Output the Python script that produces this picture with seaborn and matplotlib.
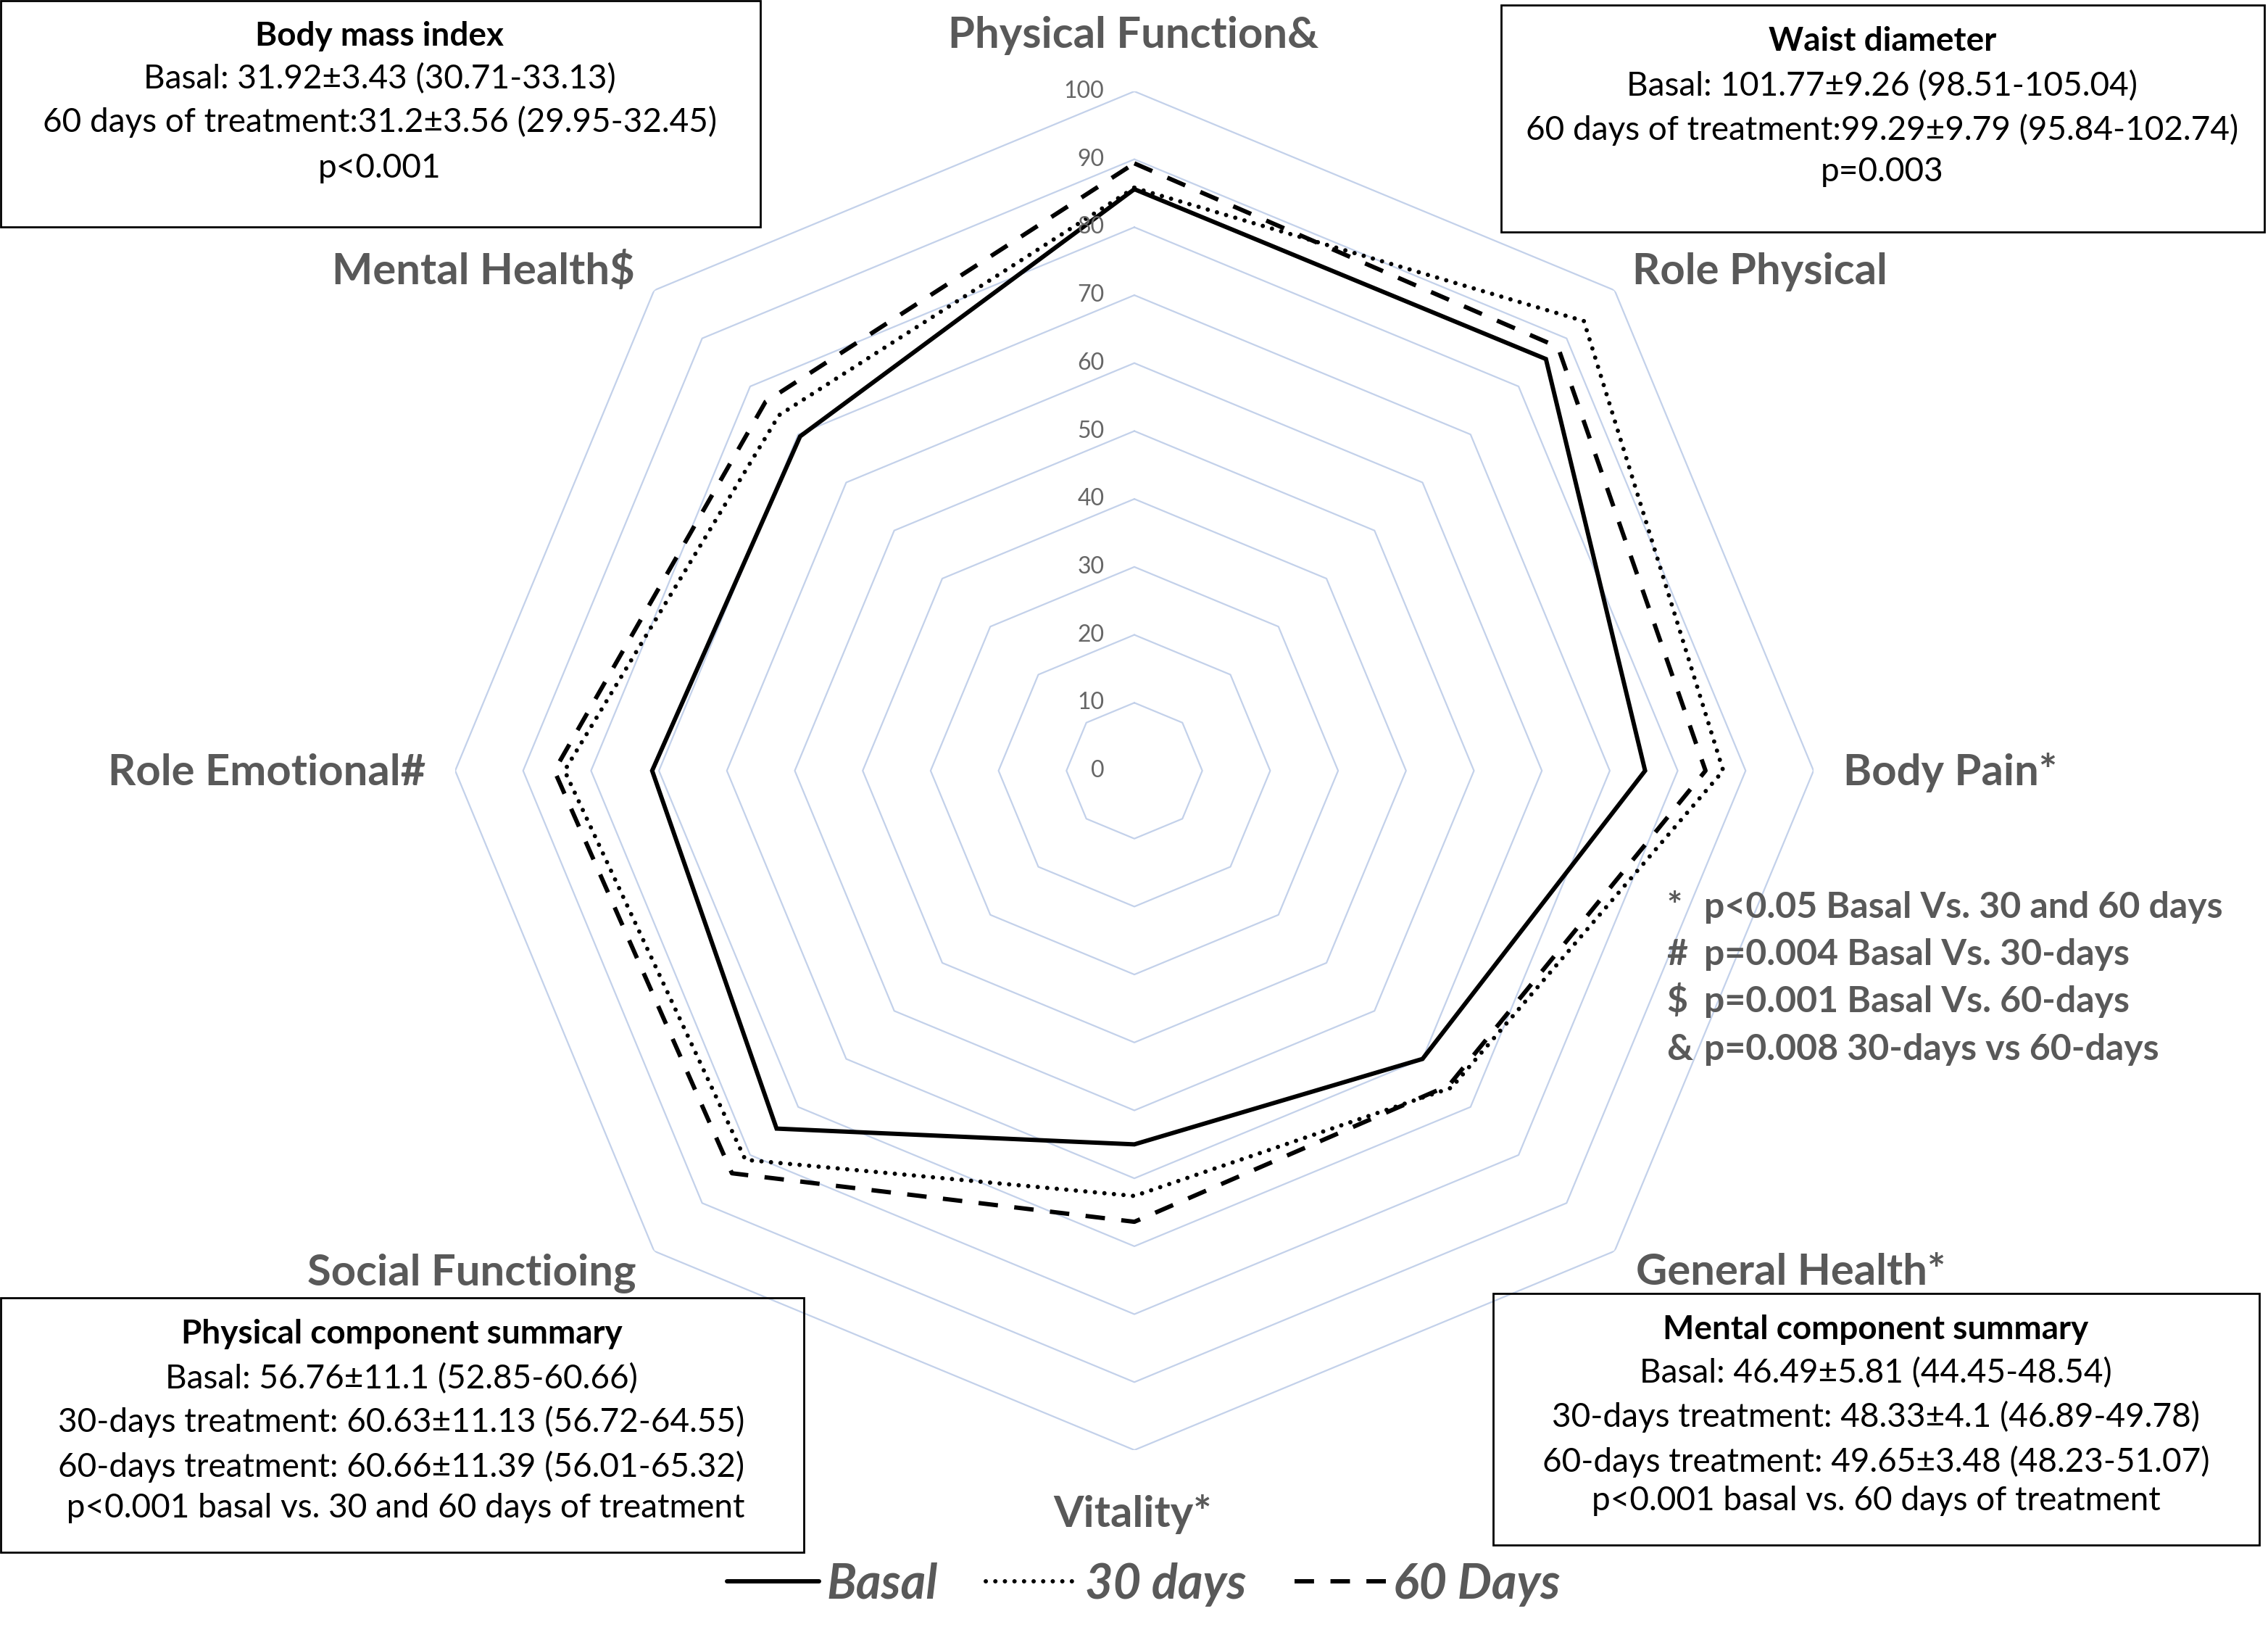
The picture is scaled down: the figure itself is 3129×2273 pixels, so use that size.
import matplotlib.pyplot as plt
import matplotlib.patches as mpatches
import numpy as np
import pandas as pd
import seaborn as sns

# --- data ---
categories = ["Physical Function&", "Role Physical", "Body Pain*", "General Health*",
              "Vitality*", "Social Functioing", "Role Emotional#", "Mental Health$"]
basal = [85.6, 85.7, 75.2, 60.0, 55.0, 74.5, 71.0, 69.6]
days_30 = [85.8, 93.6, 86.7, 66.0, 62.6, 81.0, 83.9, 74.0]
days_60 = [89.4, 88.2, 84.1, 65.5, 66.4, 83.8, 85.4, 76.8]
series_names = ["Basal", "30 days", "60 Days"]
tick_values = list(range(0, 101, 10))

bmi_lines = ["Body mass index",
             "Basal: 31.92±3.43 (30.71-33.13)",
             "60 days of treatment:31.2±3.56 (29.95-32.45)",
             "p<0.001"]
waist_lines = ["Waist diameter",
               "Basal: 101.77±9.26 (98.51-105.04)",
               "60 days of treatment:99.29±9.79 (95.84-102.74)",
               "p=0.003"]
pcs_lines = ["Physical component summary",
             "Basal: 56.76±11.1 (52.85-60.66)",
             "30-days treatment: 60.63±11.13 (56.72-64.55)",
             "60-days treatment: 60.66±11.39 (56.01-65.32)",
             " p<0.001 basal vs. 30 and 60 days of treatment"]
mcs_lines = ["Mental component summary",
             "Basal: 46.49±5.81 (44.45-48.54)",
             "30-days treatment: 48.33±4.1 (46.89-49.78)",
             "60-days treatment: 49.65±3.48 (48.23-51.07)",
             "p<0.001 basal vs. 60 days of treatment"]
note_symbols = ["*", "#", "$", "&"]
note_texts = ["p<0.05 Basal Vs. 30 and 60 days",
              "p=0.004 Basal Vs. 30-days",
              "p=0.001 Basal Vs. 60-days",
              "p=0.008 30-days vs 60-days"]

# --- layout (pixels of the 3129x2273 canvas) ---
W, H = 3129, 2273
CX, CY, RAD = 1565, 1063, 937
GRID_COLOR = "#C3D1EA"
LABEL_GRAY = "#595959"
cat_label_pos = [(1564, 66), (2428, 392), (2691, 1083), (2471, 1772),
                 (1563, 2106), (651, 1773), (368, 1083), (667, 392)]
boxes = [
    (bmi_lines, (1, 1, 1049, 313), 524, [63, 122, 182, 245]),
    (waist_lines, (2071, 7, 3124, 320), 2597, [70, 132, 193, 250]),
    (pcs_lines, (1, 1790, 1109, 2141), 554, [1853, 1915, 1975, 2037, 2093]),
    (mcs_lines, (2060, 1784, 3117, 2131), 2588, [1847, 1907, 1968, 2030, 2083]),
]
note_baselines = [1266, 1331, 1396, 1462]


def fx(px):
    return px / W


def fy(py):
    return 1 - py / H


sns.set_theme(style="white")
plt.rcParams["font.family"] = ["Lato", "DejaVu Sans"]

fig = plt.figure(figsize=(W / 100, H / 100), dpi=100)
ax = fig.add_axes([fx(CX - RAD), fy(CY + RAD), 2 * RAD / W, 2 * RAD / H],
                  projection="polar")
ax.set_theta_zero_location("N")
ax.set_theta_direction(-1)

n = len(categories)
theta = np.linspace(0, 2 * np.pi, n, endpoint=False)
theta_closed = np.append(theta, 2 * np.pi)

# octagonal gridlines
for lvl in tick_values[1:]:
    ax.plot(theta_closed, [lvl] * (n + 1), color=GRID_COLOR, lw=1.6, zorder=1)

styles = [
    dict(linestyle="-"),
    dict(linestyle=(0, (0.01, 2.2)), dash_capstyle="round"),
    dict(linestyle=(0, (4.5, 3.8))),
]
handles = []
for name, vals, st in zip(series_names, [basal, days_30, days_60], styles):
    df = pd.DataFrame({"theta": theta_closed, "value": list(vals) + [vals[0]]})
    sns.lineplot(data=df, x="theta", y="value", sort=False, estimator=None, ax=ax,
                 color="black", lw=4.3, zorder=3, **st)
    line = ax.get_lines()[-1]
    line.set_solid_joinstyle("miter")
    handles.append(line)

ax.set_xlim(0, 2 * np.pi)
ax.set_ylim(0, 100)
ax.grid(False)
ax.set_xticks([])
ax.set_yticks([])
ax.set_xlabel("")
ax.set_ylabel("")
ax.spines["polar"].set_visible(False)
if ax.get_legend() is not None:
    ax.get_legend().remove()

# radial tick labels
for v in tick_values:
    ax.annotate(str(v), xy=(0, v), xytext=(-30, 0), textcoords="offset points",
                ha="right", va="center", fontsize=23, color="#666666")

# category labels
for lab, (px, py) in zip(categories, cat_label_pos):
    fig.text(fx(px), fy(py), lab, ha="center", va="baseline", fontsize=43,
             fontweight="bold", color=LABEL_GRAY)

# statistics boxes
for lines, (x0, y0, x1, y1), xc, bases in boxes:
    fig.add_artist(mpatches.Rectangle((fx(x0), fy(y1)), (x1 - x0) / W, (y1 - y0) / H,
                                      transform=fig.transFigure, fill=False,
                                      ec="black", lw=2))
    for i, (txt, b) in enumerate(zip(lines, bases)):
        fig.text(fx(xc), fy(b), txt, ha="center", va="baseline", fontsize=33,
                 fontweight="bold" if i == 0 else "normal", color="black")

# significance notes
for sym, txt, b in zip(note_symbols, note_texts, note_baselines):
    fig.text(fx(2299), fy(b), sym, ha="left", va="baseline", fontsize=36,
             fontweight="bold", color=LABEL_GRAY)
    fig.text(fx(2351), fy(b), txt, ha="left", va="baseline", fontsize=36,
             fontweight="bold", color=LABEL_GRAY)

fig.legend(handles, series_names, loc="center", bbox_to_anchor=(fx(1578), fy(2185)),
           ncol=3, frameon=False, labelcolor=LABEL_GRAY,
           prop=dict(weight="bold", style="italic", size=48),
           handlelength=1.9, handletextpad=0.15, columnspacing=1.0)

fig.savefig("out.png", dpi=100)
plt.close(fig)
